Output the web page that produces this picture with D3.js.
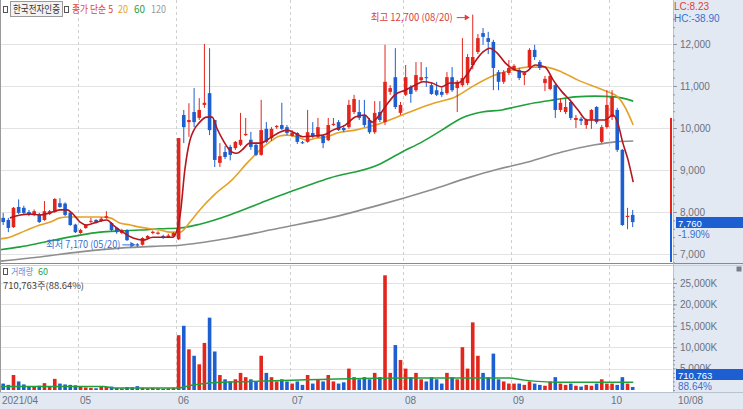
<!DOCTYPE html>
<html>
<head>
<meta charset="utf-8">
<script src="https://cdn.jsdelivr.net/npm/d3@7"></script>
<style>
body{margin:0;background:#fff;}
svg text{font-family:"Noto Sans CJK KR","Noto Sans",sans-serif;}
svg text.num, .num text{font-family:"Liberation Sans",Arial,sans-serif;}
</style>
</head>
<body>
<div id="chart"></div>
<script>
// daily candles 2021/04/12 ~ 2021/10/08
var opens=[7860,7810,7640,8120,8100,8000,7930,7950,7810,7950,8000,8210,8200,7980,7700,
  7500,7620,7770,7810,7790,7860,7740,7620,7500,7570,7240,7230,7220,7380,7500,7480,7430,7400,7420,
  7350,10310,10140,10380,10240,10550,10830,10190,9170,9430,9550,9520,9600,9830,9720,9600,9360,9980,9760,10020,10070,10020,
  9810,9880,9660,9670,9880,9790,9810,9710,10070,10140,10000,10020,10380,10380,10310,10190,9900,10380,10140,10860,11210,10360,
  10790,10980,10900,11140,11210,11020,10900,10860,10830,11210,10950,11020,11070,11500,11810,12260,12140,12050,11330,11100,11310,
  11400,11380,11260,11450,11860,11570,11070,10930,11020,10430,10380,10620,10190,10220,10070,10200,10500,9670,10020,
  10260,10430,9480,7880,7930];
var highs=[7980,7860,8120,8300,8150,8050,8060,7980,8260,8050,8330,8330,8230,8000,7720,
  7600,7710,7860,7830,7880,8020,7760,7640,7600,7590,7260,7260,7400,7450,7560,7540,7460,7480,7520,
  9760,10430,10590,10950,10710,12000,11900,10190,9640,9570,9600,9690,10360,10240,9910,9640,10670,10140,10020,10070,10600,10070,
  9950,9900,9690,10430,10140,10240,9830,10240,10240,10190,10070,10670,10790,10670,10670,10240,10640,10640,11980,11020,11900,10620,
  11500,11020,11570,11570,11450,11070,11100,10950,11330,11450,11140,12140,11760,12700,12240,12380,12290,12100,11380,11380,11620,
  11520,11430,11330,11900,11980,11620,11240,11260,11070,10710,10690,10640,10310,10260,10220,10450,10520,10070,10900,
  10900,10480,9500,8100,8050];
var lows=[7690,7520,7620,7950,7950,7900,7900,7740,7790,7930,7980,8100,7900,7670,7500,
  7480,7600,7740,7720,7760,7840,7540,7480,7470,7310,7190,7170,7200,7360,7470,7460,7360,7380,7400,
  7330,9640,9790,10020,10190,10480,9830,9070,9070,9260,9230,9480,9570,9810,9480,9330,9340,9640,9690,9980,9950,9830,
  9790,9620,9620,9650,9760,9760,9520,9690,10050,9930,9900,9980,10330,10190,10020,9860,9860,10140,10070,10790,10450,10310,
  10760,10600,10860,11100,10980,10790,10760,10740,10790,10860,10380,10980,11020,11400,11760,11980,11760,10900,10900,11050,11260,
  11360,11140,11020,11380,11620,11380,10880,10900,10240,10380,10330,10190,10000,10070,9980,9980,10100,9640,9980,
  10190,9430,7670,7590,7640];
var closes=[7760,7620,8100,7980,7980,7930,8020,7760,8020,8020,8310,8120,7930,7690,7520,
  7570,7690,7790,7740,7840,7900,7570,7520,7570,7330,7210,7200,7380,7430,7530,7510,7400,7440,7500,
  9760,10020,10190,10140,10430,10600,9950,9240,9330,9310,9360,9670,9720,9860,9550,9360,9950,9670,9980,10050,9980,9880,
  9880,9670,9640,9900,9790,10020,9640,10070,10100,9950,9950,10550,10690,10240,10070,9900,10360,10190,11100,10950,10500,10550,
  11210,10810,11260,11210,11190,10810,10790,10790,11210,10900,11100,11190,11690,11690,12140,12170,12050,11430,11100,11330,11430,
  11480,11190,11310,11860,11690,11430,11170,11240,10430,10600,10500,10240,10240,10170,10190,10430,10140,10020,10550,
  10740,9480,7690,7910,7760];
// volume (thousand shares)
var volumes=[1500,1200,3500,2000,1300,900,800,1000,1600,700,2600,1500,1300,1200,1100,
  700,600,500,400,900,700,800,500,400,700,600,900,500,400,500,400,300,400,500,
  12800,15000,9500,8000,6000,11000,16900,9000,3500,2500,2000,2500,4000,3000,2500,2000,8000,4000,3000,2000,2500,2000,
  1500,2000,1200,3500,1500,2500,2000,3500,2000,1500,1800,5000,3000,2500,3000,2500,4000,3000,26800,4000,10500,7000,
  5000,3000,4000,2500,2000,3000,2500,1500,4000,3000,2500,10000,5000,15800,8000,4000,3000,8500,2500,2000,1500,
  1500,1500,1200,2000,1500,1200,1000,2000,3000,1500,1200,1500,1000,800,1200,1000,1500,2500,1500,
  1500,1200,3000,1500,711];

// moving average lines: [candle index, value]
var ma5=[[1.3,7860],[3.3,7930],[5.2,7950],[7.1,7930],[9.1,7980],[11,8050],[12.4,8050],[13.3,7980],[14.9,7760],[16.2,7690],
  [18.2,7760],[20.1,7810],[21.3,7690],[23.2,7520],[25.2,7380],[27.1,7330],[29,7400],[31,7400],[32.9,7400],[34.3,7930],
  [35.2,9000],[36.2,9710],[38.1,10140],[39.5,10260],[40.5,10260],[41.4,10000],[42.6,9710],[44.3,9430],[45.3,9400],[46.3,9480],
  [47.8,9640],[49.8,9640],[51.7,9760],[53.6,9900],[55,9950],[56.2,9900],[58.1,9790],[60,9810],[62,9830],[63.9,9950],
  [66.3,10070],[68.2,10260],[70.1,10310],[71.5,10140],[72.6,10260],[74.6,10600],[75.9,10790],[77.9,10900],[79.8,11020],[81.4,11100],
  [83.1,11070],[85,10980],[86.6,11070],[88.1,11070],[90.1,11310],[91.4,11570],[93,11810],[94.3,11900],[95.7,11790],[97.3,11550],
  [99.2,11380],[101.1,11330],[103.1,11500],[105,11450],[106.6,11140],[108.3,10860],[109.8,10670],[111.4,10430],[113.1,10190],[114.7,10190],
  [116.6,10190],[118.2,10310],[119.1,10120],[120.1,9640],[121.1,9240],[122.1,8710]];
var ma20=[[-0.6,7360],[1.3,7400],[3.3,7500],[5.2,7600],[7.1,7690],[9.1,7760],[11,7860],[12.4,7880],[14.3,7880],[16.2,7880],
  [18.8,7880],[20.7,7860],[22.6,7740],[24.6,7690],[26.5,7640],[28.5,7600],[30.4,7570],[32.3,7520],[34.3,7520],[36.2,7760],
  [38.1,8050],[41.1,8430],[44.3,8760],[47.3,9170],[49.8,9480],[51.7,9670],[53.6,9810],[55,9830],[56.9,9790],[58.9,9710],
  [60.8,9760],[62.8,9790],[64.7,9880],[68.2,9950],[72.1,10070],[75.9,10240],[79.8,10430],[83.7,10600],[87.6,10740],[91.4,11020],
  [95.3,11260],[98.6,11380],[101.7,11450],[105,11450],[108.3,11330],[111.4,11140],[114.7,10980],[117.2,10860],[119.1,10740],[120.5,10500],[122.1,10070]];
var ma60=[[-0.6,7100],[3.3,7170],[7.1,7260],[11,7360],[14.9,7450],[18.8,7520],[22.6,7550],[26.5,7570],[30.4,7600],[34.3,7620],
  [38.1,7710],[43.9,7930],[49.8,8210],[55.6,8480],[63.3,8810],[72.6,9120],[77.3,9430],[81.2,9670],[85,9950],[88.9,10240],
  [92.8,10380],[96.7,10430],[99.2,10500],[103.1,10600],[106.9,10670],[110.8,10740],[114.7,10760],[118.6,10740],[122.1,10640]];
var ma120=[[-0.6,6830],[7.1,6930],[14.9,7050],[22.6,7140],[30.4,7190],[34.3,7210],[43.9,7380],[53.6,7620],[63.3,7860],[73,8170],
  [82.7,8520],[90.5,8830],[95.3,9000],[101.7,9190],[108.3,9430],[114.7,9600],[118.6,9670],[122.1,9690]];
var volMa60=[[-0.6,820],[19.5,820],[21.5,470],[33.9,470],[36.5,1100],[40.5,1700],[48,2000],[57.5,2350],[78,2800],[98,2800],
  [101,2300],[107.7,1800],[122.1,1800]];

var monthLabels=["2021/04","05","06","07","08","09","10"];
var monthStarts=[0,15,34,56,78,99,118];
var priceTicks=[7000,8000,9000,10000,11000,12000];
var volTicks=[5000,10000,15000,20000,25000];

var upColor="#e3261d", downColor="#1d5fd0";
var width=743, height=409;
var plotRight=672;

var svg=d3.select("#chart").append("svg")
    .attr("width",width)
    .attr("height",height);

var xScale=d3.scaleLinear().domain([-0.5,129.5]).range([0.6,671.4]);
var yPrice=d3.scaleLinear().domain([7000,12000]).range([254,44]);
var yVol=d3.scaleLinear().domain([0,25000]).range([390,283]);

var defs=svg.append("defs");
defs.append("clipPath").attr("id","clipP").append("rect").attr("x",0).attr("y",0).attr("width",plotRight).attr("height",263);
defs.append("clipPath").attr("id","clipV").append("rect").attr("x",0).attr("y",266).attr("width",plotRight).attr("height",126);
// local coords of the volume axis group (it is translated by 673)
defs.append("clipPath").attr("id","clipVAxis").append("rect").attr("x",0).attr("y",266).attr("width",70).attr("height",103);

// right axis background + bottom strip
svg.append("rect").attr("x",673).attr("y",0).attr("width",70).attr("height",height).attr("fill","#e2e9f2");
svg.append("rect").attr("x",0).attr("y",392).attr("width",width).attr("height",17).attr("fill","#e2e9f2");

// grids
svg.append("g").selectAll("line").data(priceTicks).enter().append("line")
    .attr("x1",0).attr("x2",plotRight)
    .attr("y1",function(d){return Math.round(yPrice(d))+0.5;})
    .attr("y2",function(d){return Math.round(yPrice(d))+0.5;})
    .attr("stroke","#e3e3e3");
svg.append("g").selectAll("line").data(volTicks).enter().append("line")
    .attr("x1",0).attr("x2",plotRight)
    .attr("y1",function(d){return Math.round(yVol(d))+0.5;})
    .attr("y2",function(d){return Math.round(yVol(d))+0.5;})
    .attr("stroke","#e3e3e3");
var monthLines=svg.append("g");
monthStarts.slice(1).forEach(function(s){
  var mx=Math.round(xScale(s-0.5))+0.5;
  monthLines.append("line").attr("x1",mx).attr("x2",mx).attr("y1",0).attr("y2",263)
      .attr("stroke","#cfcfcf").attr("stroke-dasharray","3,3");
  monthLines.append("line").attr("x1",mx).attr("x2",mx).attr("y1",266).attr("y2",392)
      .attr("stroke","#cfcfcf").attr("stroke-dasharray","3,3");
});

// moving averages (price)
function maLine(scale){
  return d3.line()
      .x(function(d){return xScale(d[0]);})
      .y(function(d){return scale(d[1]);})
      .curve(d3.curveMonotoneX);
}
var gP=svg.append("g").attr("clip-path","url(#clipP)");
gP.append("path").attr("d",maLine(yPrice)(ma120)).attr("fill","none").attr("stroke","#8e8e8e").attr("stroke-width",1.6);
gP.append("path").attr("d",maLine(yPrice)(ma60)).attr("fill","none").attr("stroke","#1fa03b").attr("stroke-width",1.6);
gP.append("path").attr("d",maLine(yPrice)(ma20)).attr("fill","none").attr("stroke","#e4a227").attr("stroke-width",1.6);

// candles
var idx=d3.range(closes.length);
function candleColor(i){return closes[i]>=opens[i]?upColor:downColor;}
gP.selectAll("line.wick").data(idx).enter().append("line")
    .attr("class","wick")
    .attr("x1",function(i){return xScale(i);})
    .attr("x2",function(i){return xScale(i);})
    .attr("y1",function(i){return yPrice(highs[i]);})
    .attr("y2",function(i){return yPrice(lows[i]);})
    .attr("stroke",candleColor)
    .attr("stroke-width",1);
gP.selectAll("rect.body").data(idx).enter().append("rect")
    .attr("class","body")
    .attr("x",function(i){return xScale(i)-1.8;})
    .attr("width",3.6)
    .attr("y",function(i){return yPrice(Math.max(opens[i],closes[i]));})
    .attr("height",function(i){return Math.max(1,Math.abs(yPrice(opens[i])-yPrice(closes[i])));})
    .attr("fill",candleColor);
gP.append("path").attr("d",maLine(yPrice)(ma5)).attr("fill","none").attr("stroke","#b3161d").attr("stroke-width",1.6);

// volume bars
var gV=svg.append("g").attr("clip-path","url(#clipV)");
gV.selectAll("rect").data(idx).enter().append("rect")
    .attr("x",function(i){return xScale(i)-1.8;})
    .attr("width",3.6)
    .attr("y",function(i){return yVol(volumes[i]);})
    .attr("height",function(i){return yVol(0)-yVol(volumes[i]);})
    .attr("fill",candleColor);
gV.append("path").attr("d",maLine(yVol)(volMa60)).attr("fill","none").attr("stroke","#1fa03b").attr("stroke-width",1.4);

// panel borders
svg.append("line").attr("x1",0.5).attr("x2",0.5).attr("y1",0).attr("y2",392).attr("stroke","#9a9a9a");
svg.append("line").attr("x1",0).attr("x2",width).attr("y1",263.5).attr("y2",263.5).attr("stroke","#8a8a8a");
svg.append("line").attr("x1",0).attr("x2",width).attr("y1",265.5).attr("y2",265.5).attr("stroke","#cfcfcf");
svg.append("line").attr("x1",0).attr("x2",width).attr("y1",392.5).attr("y2",392.5).attr("stroke","#b9c3cf");
svg.append("line").attr("x1",673.5).attr("x2",673.5).attr("y1",0).attr("y2",392).attr("stroke","#b9c3cf");

// right axes
var axisP=svg.append("g").attr("class","num").attr("transform","translate(673,0)")
    .call(d3.axisRight(yPrice).tickValues(priceTicks).tickSize(4).tickPadding(3).tickFormat(d3.format(",")));
var axisPm=svg.append("g").attr("transform","translate(673,0)")
    .call(d3.axisRight(yPrice).tickValues(d3.range(6800,12700,200)).tickSize(2).tickFormat(""));
var axisV=svg.append("g").attr("class","num").attr("transform","translate(673,0)").attr("clip-path","url(#clipVAxis)")
    .call(d3.axisRight(yVol).tickValues(volTicks).tickSize(4).tickPadding(3).tickFormat(function(d){return d3.format(",")(d)+"K";}));
var axisVm=svg.append("g").attr("transform","translate(673,0)")
    .call(d3.axisRight(yVol).tickValues(d3.range(0,27000,1000)).tickSize(2).tickFormat(""));
[axisP,axisPm,axisV,axisVm].forEach(function(a){
  a.select(".domain").remove();
  a.selectAll("line").attr("stroke","#8c96a3");
  a.selectAll("text").attr("fill","#6b7280").attr("font-size",10);
});

// bottom month labels
svg.append("g").attr("class","num").selectAll("text").data(monthLabels).enter().append("text")
    .attr("x",function(d,i){return i===0?2:Math.round(xScale(monthStarts[i]-0.5))+2;})
    .attr("y",404)
    .attr("font-size",10)
    .attr("fill","#6b7280")
    .text(function(d){return d;});
svg.append("text").attr("class","num").attr("x",678).attr("y",404).attr("font-size",10).attr("fill","#6b7280").text("10/08");

// current price box & range bar
var last=closes.length-1;
var lastY=Math.round(yPrice(closes[last]));
svg.append("rect").attr("x",670).attr("y",118).attr("width",2).attr("height",95).attr("fill",upColor);
svg.append("rect").attr("x",670).attr("y",213).attr("width",2).attr("height",49).attr("fill",downColor);
svg.append("rect").attr("x",676).attr("y",lastY-5).attr("width",67).attr("height",11).attr("fill","#1d5fd0");
svg.append("text").attr("class","num").attr("x",678).attr("y",lastY+4.5).attr("font-size",9.5).attr("fill","#fff")
    .text(d3.format(",")(closes[last]));
svg.append("text").attr("class","num").attr("x",678).attr("y",lastY+16).attr("font-size",10).attr("fill","#3a6fd0").text("-1.90%");
svg.append("rect").attr("x",676).attr("y",369).attr("width",67).attr("height",11).attr("fill","#1d5fd0");
svg.append("text").attr("class","num").attr("x",678).attr("y",378.5).attr("font-size",9.5).attr("fill","#fff").text("710,763");
svg.append("text").attr("class","num").attr("x",678).attr("y",390).attr("font-size",10).attr("fill","#3a6fd0").text("88.64%");
svg.append("text").attr("class","num").attr("x",674).attr("y",10).attr("font-size",10).attr("fill","#e0403a").text("LC:8.23");
svg.append("text").attr("class","num").attr("x",674).attr("y",22).attr("font-size",10).attr("fill","#3a6fd0").text("HC:-38.90");
svg.append("rect").attr("x",736.5).attr("y",266.5).attr("width",5).attr("height",5).attr("fill","#7a7f86");

// legend
function label(x,y,txt,color,len,size){
  var t=svg.append("text").attr("x",x).attr("y",y).attr("font-size",size||10).attr("fill",color).text(txt);
  if(len){t.attr("textLength",len).attr("lengthAdjust","spacingAndGlyphs");}
  return t;
}
svg.append("rect").attr("x",3.5).attr("y",6.5).attr("width",4).attr("height",6).attr("fill","none").attr("stroke","#555");
svg.append("rect").attr("x",10.5).attr("y",1.5).attr("width",52).attr("height",15).attr("fill","#f3f3f3").attr("stroke","#9a9a9a");
label(13,13,"한국전자인증","#333",47);
svg.append("rect").attr("x",64.5).attr("y",6.5).attr("width",4).attr("height",6).attr("fill","none").attr("stroke","#555");
label(72,13,"종가 단순 5","#e0403a",41);
label(118,13,"20","#e4a227",10);
label(134,13,"60","#2aa04a",11);
label(151,13,"120","#9a9a9a",15);

svg.append("rect").attr("x",3.5).attr("y",268.5).attr("width",4).attr("height",6).attr("fill","none").attr("stroke","#555");
label(11,275,"거래량","#4f8fd6",22,9);
label(38,275,"60","#2aa04a",10,9);
label(3,288.5,"710,763주(88.64%)","#444",81,9);

// high / low annotations
var hiIdx=highs.indexOf(d3.max(highs)), loIdx=lows.indexOf(d3.min(lows));
svg.append("text").attr("x",xScale(hiIdx)-20).attr("y",yPrice(highs[hiIdx])+6).attr("text-anchor","end")
    .attr("font-size",10).attr("fill","#d9413a").attr("textLength",82).attr("lengthAdjust","spacingAndGlyphs")
    .text("최고 12,700 (08/20)");
svg.append("line").attr("x1",xScale(hiIdx)-16).attr("x2",xScale(hiIdx)-4)
    .attr("y1",yPrice(highs[hiIdx])+3).attr("y2",yPrice(highs[hiIdx])+3).attr("stroke","#d9413a");
svg.append("path").attr("d","M"+(xScale(hiIdx)-3)+","+(yPrice(highs[hiIdx])+3)+"l-5,-3l0,6z").attr("fill","#d9413a");
svg.append("text").attr("x",xScale(loIdx)-17).attr("y",yPrice(lows[loIdx])+1).attr("text-anchor","end")
    .attr("font-size",10).attr("fill","#3a6fd0").attr("textLength",74).attr("lengthAdjust","spacingAndGlyphs")
    .text("최저 7,170 (05/20)");
svg.append("line").attr("x1",xScale(loIdx)-15).attr("x2",xScale(loIdx)-3)
    .attr("y1",yPrice(lows[loIdx])-2).attr("y2",yPrice(lows[loIdx])-2).attr("stroke","#3a6fd0");
svg.append("path").attr("d","M"+(xScale(loIdx)-2)+","+(yPrice(lows[loIdx])-2)+"l-5,-3l0,6z").attr("fill","#3a6fd0");
</script>
</body>
</html>
